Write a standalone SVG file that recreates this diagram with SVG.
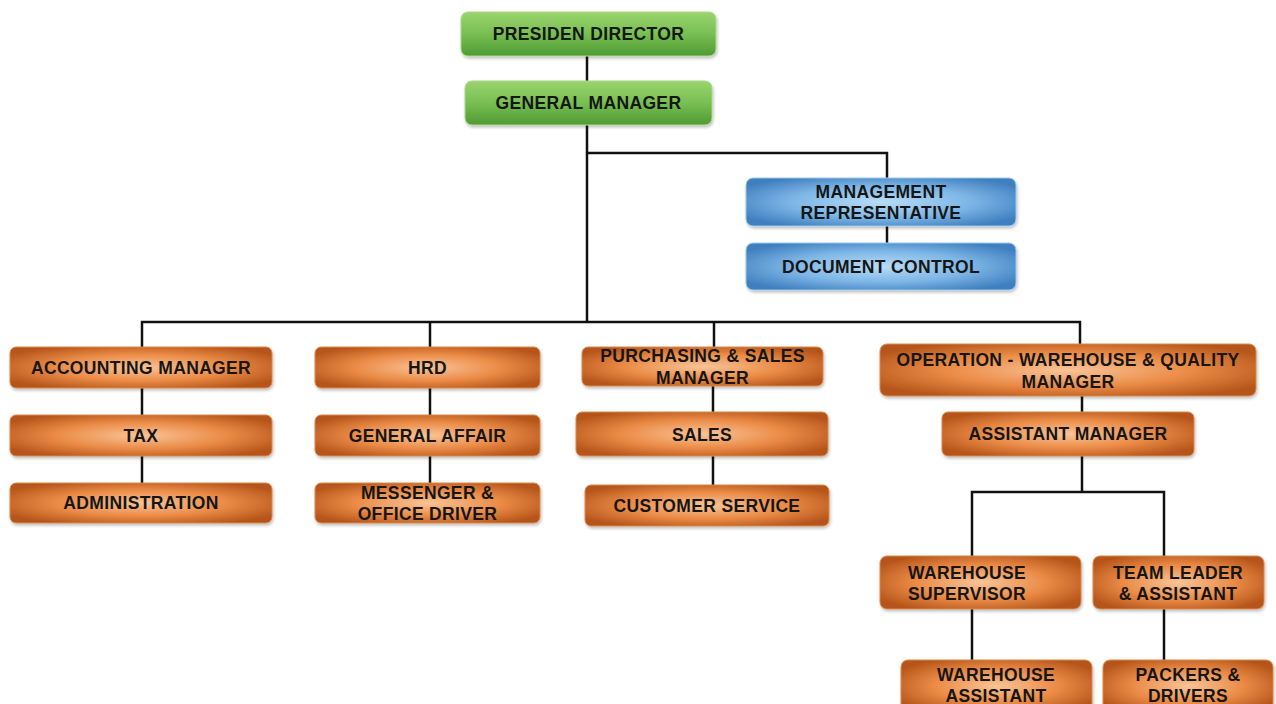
<svg xmlns="http://www.w3.org/2000/svg" width="1276" height="704" viewBox="0 0 1276 704">
<defs>
<radialGradient id="gOrange" cx="0.5" cy="0.5" r="0.6">
<stop offset="0" stop-color="#f9c497"/>
<stop offset="0.55" stop-color="#ea8a45"/>
<stop offset="1" stop-color="#b5541a"/>
</radialGradient>
<linearGradient id="gGreen" x1="0" y1="0" x2="0" y2="1">
<stop offset="0" stop-color="#9ad46f"/>
<stop offset="0.5" stop-color="#78bf52"/>
<stop offset="1" stop-color="#4f9a34"/>
</linearGradient>
<radialGradient id="gBlue" cx="0.5" cy="0.5" r="0.6">
<stop offset="0" stop-color="#b9dcf6"/>
<stop offset="0.55" stop-color="#7db6e6"/>
<stop offset="1" stop-color="#3f7fbf"/>
</radialGradient>
<filter id="sh" x="-5%" y="-10%" width="110%" height="130%">
<feDropShadow dx="1" dy="2" stdDeviation="1.5" flood-color="#000" flood-opacity="0.25"/>
</filter>
</defs>
<style>
.o{fill:url(#gOrange);stroke:#d98a4c;stroke-width:1;filter:url(#sh)}
.g{fill:url(#gGreen);stroke:#a8d98a;stroke-width:1;filter:url(#sh)}
.b{fill:url(#gBlue);stroke:#9cc8ec;stroke-width:1;filter:url(#sh)}
text{font-family:"Liberation Sans",Arial,sans-serif;font-weight:bold;font-size:17.5px;fill:#161616;text-anchor:middle;letter-spacing:0.35px}
.c{fill:none;stroke:#111;stroke-width:2.5}
</style>
<g id="connectors">
<path class="c" d="M587 56V81M587 125V322M587 153H887V178M887 226V243"/>
<path class="c" d="M142 347V322H1080V344M430 322V347M714 322V347"/>
<path class="c" d="M142 388V415M142 456V483"/>
<path class="c" d="M430 388V415M430 456V483"/>
<path class="c" d="M713 386V412M713 456V485"/>
<path class="c" d="M1082 396V412M1082 456V492M972 556V492H1164V556"/>
<path class="c" d="M972 609V660M1164 609V660"/>
</g>
<g id="presiden-director"><rect class="g" x="461" y="12" width="255" height="44" rx="7"/><text x="588.5" y="40">PRESIDEN DIRECTOR</text></g>
<g id="general-manager"><rect class="g" x="465" y="81" width="247" height="44" rx="7"/><text x="588.5" y="109">GENERAL MANAGER</text></g>
<g id="management-representative"><rect class="b" x="746" y="178" width="270" height="48" rx="7"/><text x="881" y="198">MANAGEMENT</text><text x="881" y="219">REPRESENTATIVE</text></g>
<g id="document-control"><rect class="b" x="746" y="243" width="270" height="47" rx="7"/><text x="881" y="273">DOCUMENT CONTROL</text></g>
<g id="accounting-manager"><rect class="o" x="10" y="347" width="262" height="41" rx="6"/><text x="141" y="374">ACCOUNTING MANAGER</text></g>
<g id="tax"><rect class="o" x="10" y="415" width="262" height="41" rx="6"/><text x="141" y="442">TAX</text></g>
<g id="administration"><rect class="o" x="10" y="483" width="262" height="40" rx="6"/><text x="141" y="509">ADMINISTRATION</text></g>
<g id="hrd"><rect class="o" x="315" y="347" width="225" height="41" rx="6"/><text x="427.5" y="374">HRD</text></g>
<g id="general-affair"><rect class="o" x="315" y="415" width="225" height="41" rx="6"/><text x="427.5" y="442">GENERAL AFFAIR</text></g>
<g id="messenger"><rect class="o" x="315" y="483" width="225" height="40" rx="6"/><text x="427.5" y="499">MESSENGER &amp;</text><text x="427.5" y="520">OFFICE DRIVER</text></g>
<g id="purchasing-sales-manager"><rect class="o" x="582" y="347" width="241" height="39" rx="6"/><text x="702.5" y="362">PURCHASING &amp; SALES</text><text x="702.5" y="384">MANAGER</text></g>
<g id="sales"><rect class="o" x="576" y="412" width="252" height="44" rx="6"/><text x="702" y="441">SALES</text></g>
<g id="customer-service"><rect class="o" x="585" y="485" width="244" height="41" rx="6"/><text x="707" y="512">CUSTOMER SERVICE</text></g>
<g id="operation-manager"><rect class="o" x="880" y="344" width="376" height="52" rx="7"/><text x="1068" y="366">OPERATION - WAREHOUSE &amp; QUALITY</text><text x="1068" y="388">MANAGER</text></g>
<g id="assistant-manager"><rect class="o" x="942" y="412" width="252" height="44" rx="6"/><text x="1068" y="440">ASSISTANT MANAGER</text></g>
<g id="warehouse-supervisor"><rect class="o" x="880" y="556" width="201" height="53" rx="7"/><text x="967" y="579">WAREHOUSE</text><text x="967" y="600">SUPERVISOR</text></g>
<g id="team-leader"><rect class="o" x="1093" y="556" width="171" height="53" rx="7"/><text x="1178" y="579">TEAM LEADER</text><text x="1178" y="600">&amp; ASSISTANT</text></g>
<g id="warehouse-assistant"><rect class="o" x="901" y="660" width="191" height="52" rx="7"/><text x="996" y="681">WAREHOUSE</text><text x="996" y="702">ASSISTANT</text></g>
<g id="packers-drivers"><rect class="o" x="1103" y="660" width="170" height="52" rx="7"/><text x="1188" y="681">PACKERS &amp;</text><text x="1188" y="702">DRIVERS</text></g>
</svg>
